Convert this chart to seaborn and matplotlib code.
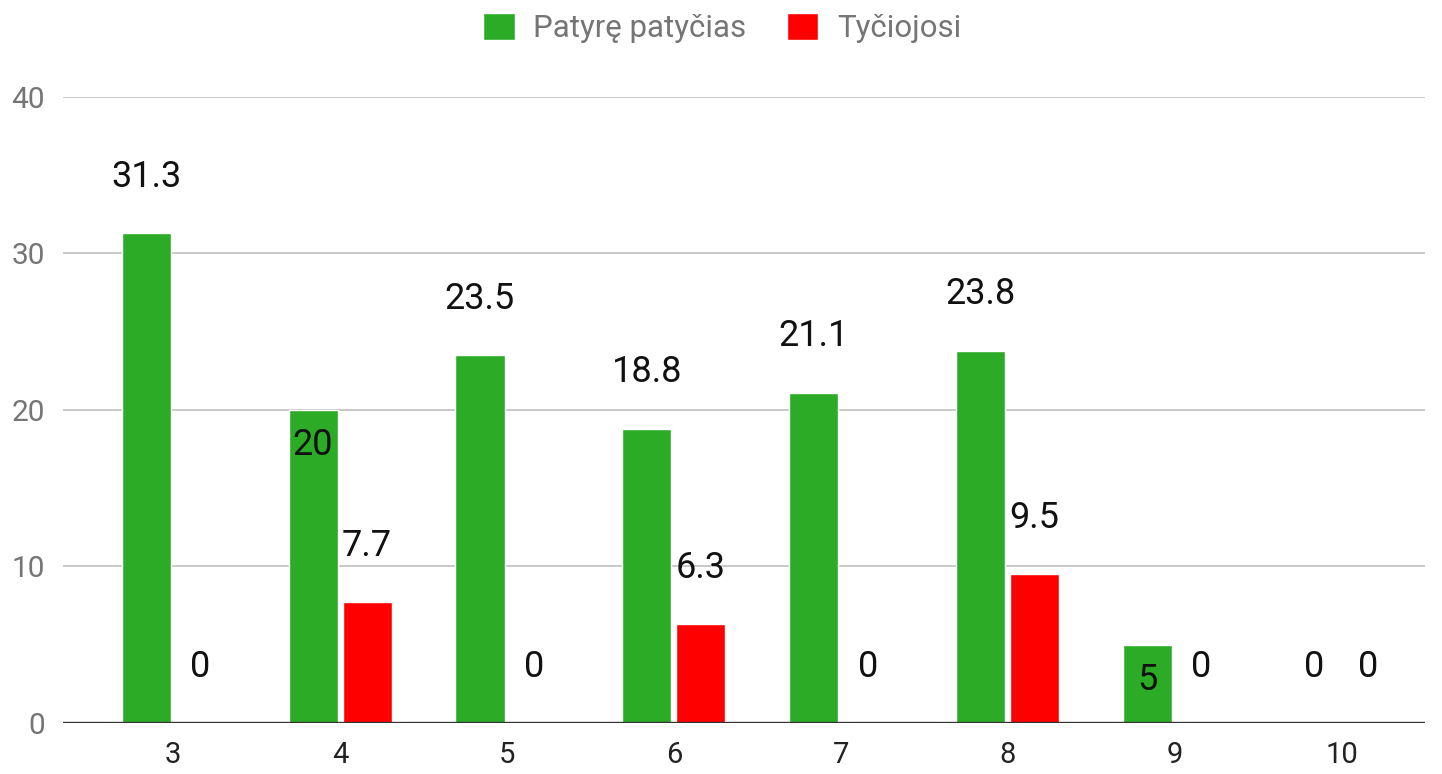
import pandas as pd
import matplotlib
matplotlib.use("Agg")
import matplotlib.pyplot as plt
import seaborn as sns

# Data
grades = ["3", "4", "5", "6", "7", "8", "9", "10"]
bullied = [31.3, 20, 23.5, 18.8, 21.1, 23.8, 5, 0]      # Patyrę patyčias
bullying = [0, 7.7, 0, 6.3, 0, 9.5, 0, 0]               # Tyčiojosi
series_names = ["Patyrę patyčias", "Tyčiojosi"]
colors = ["#2cab27", "#ff0000"]

# labels drawn inside the bar instead of above it (series index, grade index)
inside_labels = {(0, 1), (0, 6)}

df = pd.DataFrame({
    "grade": grades * 2,
    "value": bullied + bullying,
    "series": [series_names[0]] * len(grades) + [series_names[1]] * len(grades),
})

sns.set_style("white")
plt.rcParams["font.family"] = ["Roboto", "DejaVu Sans"]

fig = plt.figure(figsize=(14.42, 7.74), dpi=100)
ax = fig.add_axes([0.0437, 0.0659, 0.9445, 0.8088])

sns.barplot(data=df, x="grade", y="value", hue="series", order=grades,
            hue_order=series_names, palette=colors, width=0.647, gap=0.09,
            saturation=1, ax=ax, legend=True)

ax.set_ylim(0, 40)
ax.set_xlim(-0.66, 7.5)
ax.set_yticks([0, 10, 20, 30, 40])
ax.grid(axis="y", color="#c8c8c8", linewidth=1.4)
ax.set_axisbelow(True)
ax.axhline(0, color="#333333", linewidth=1.7, zorder=5)
for s in ax.spines.values():
    s.set_visible(False)
ax.set_xlabel("")
ax.set_ylabel("")
ax.tick_params(axis="y", length=0, pad=13, labelsize=21.5, labelcolor="#757575")
ax.tick_params(axis="x", length=0, pad=13, labelsize=21, labelcolor="#222222")

# value labels
for si, cont in enumerate(ax.containers):
    for gi, bar in enumerate(cont):
        h = bar.get_height()
        x = bar.get_x() + bar.get_width() / 2
        if (si, gi) in inside_labels:
            y = h - 2.24
        else:
            y = h + 3.6
        val = [bullied, bullying][si][gi]
        txt = f"{val:g}"
        ax.text(x, y, txt, ha="center", va="center", fontsize=26, color="#111111")

# legend at top center
handles, labels = ax.get_legend_handles_labels()
ax.get_legend().remove()
fig.legend(handles, labels, loc="center", bbox_to_anchor=(0.501, 0.964), ncol=2,
           frameon=False, fontsize=22.5, labelcolor="#757575", handlelength=1.0,
           handleheight=1.0, handletextpad=0.6, columnspacing=1.3)

fig.savefig("out.png", dpi=100)
